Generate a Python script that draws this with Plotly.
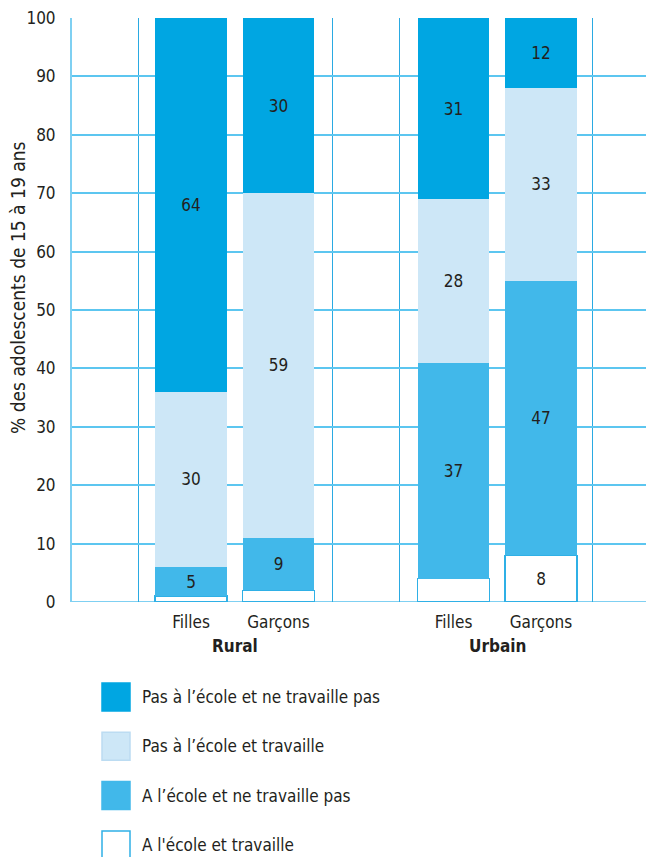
import plotly.graph_objects as go

# Categories
groups = ["Rural", "Rural", "Urbain", "Urbain"]
sexes = ["Filles", "Garçons", "Filles", "Garçons"]

# Series (% of adolescents aged 15-19), stacked from bottom to top
series_names = [
    "A l'école et travaille",
    "A l’école et ne travaille pas",
    "Pas à l’école et travaille",
    "Pas à l’école et ne travaille pas",
]
ecole_travaille = [1, 2, 4, 8]
ecole_ne_travaille_pas = [5, 9, 37, 47]
pas_ecole_travaille = [30, 59, 28, 33]
pas_ecole_ne_travaille_pas = [64, 30, 31, 12]

y_ticks = [0, 10, 20, 30, 40, 50, 60, 70, 80, 90, 100]

FONT = "Liberation Sans Narrow, Arial Narrow, DejaVu Sans Condensed, sans-serif"
TEXT = "#231f20"
colors = ["#ffffff", "#41b8ea", "#cde7f7", "#00a6e2"]
edge = "#2fb0e6"

# slot positions: two bars per group with an empty slot between groups
x_pos = [1, 2, 4, 5]
bar_width = 0.82

values = [ecole_travaille, ecole_ne_travaille_pas, pas_ecole_travaille, pas_ecole_ne_travaille_pas]

fig = go.Figure()
for name, vals, col in zip(series_names, values, colors):
    fig.add_trace(go.Bar(
        x=x_pos,
        y=vals,
        name=name,
        width=bar_width,
        marker=dict(color=col,
                    line=dict(color=edge if col == "#ffffff" else col,
                              width=1.5 if col == "#ffffff" else 0)),
        text=[str(v) if v >= 5 else "" for v in vals],
        textposition="inside",
        insidetextanchor="middle",
        textangle=0,
        constraintext="none",
        textfont=dict(family=FONT, size=17, color=TEXT),
        showlegend=False,
        hoverinfo="skip",
    ))

fig.update_layout(
    barmode="stack",
    width=646,
    height=857,
    margin=dict(l=72, r=0, t=18, b=255),
    paper_bgcolor="white",
    plot_bgcolor="white",
    font=dict(family=FONT, size=17, color=TEXT),
    xaxis=dict(
        range=[-0.36, 6.2],
        tickvals=x_pos,
        ticktext=sexes,
        ticks="",
        ticklabelstandoff=8,
        showgrid=False,
        zeroline=False,
        showline=False,
        tickfont=dict(family=FONT, size=17, color=TEXT),
        minor=dict(tickvals=[0.4, 2.62, 3.38, 5.59], showgrid=True,
                   gridcolor="#2aaae2", gridwidth=1.3, ticks=""),
    ),
    yaxis=dict(
        range=[0, 100],
        tickvals=y_ticks,
        showgrid=True,
        gridcolor="#5cc6f0",
        gridwidth=2,
        zeroline=False,
        showline=True,
        linecolor="#7fd0f2",
        linewidth=2,
        ticks="",
        ticklabelstandoff=11,
        tickfont=dict(family=FONT, size=17, color=TEXT),
    ),
)

# axis title, placed as a rotated annotation
fig.add_annotation(xref="paper", yref="paper", x=(18 - 72) / 574,
                   y=1 - (288 - 18) / 584, xanchor="center", yanchor="middle",
                   textangle=-90, text="% des adolescents de 15 à 19 ans",
                   showarrow=False, font=dict(family=FONT, size=19, color=TEXT))

# baseline along the x axis
fig.add_shape(type="line", xref="paper", yref="y", x0=0, x1=1, y0=0, y1=0,
              line=dict(color="#7fd0f2", width=2), layer="below")

# group labels below the category labels
for g in dict.fromkeys(groups):
    xs = [x for x, gg in zip(x_pos, groups) if gg == g]
    fig.add_annotation(x=sum(xs) / len(xs), y=0, xref="x", yref="y",
                       yshift=-44, text=f"<b>{g}</b>", showarrow=False,
                       font=dict(family=FONT, size=17, color=TEXT))

# legend drawn as swatches with text, top series first
legend_top = 683
row_gap = 49.3
sw = 28
for i, (name, col) in enumerate(zip(series_names[::-1], colors[::-1])):
    y0 = legend_top + i * row_gap
    fig.add_shape(type="rect", xref="paper", yref="paper",
                  x0=(102 - 72) / 574, x1=(102 + sw - 72) / 574,
                  y0=1 - (y0 + sw - 18) / 584, y1=1 - (y0 - 18) / 584,
                  fillcolor=col,
                  line=dict(color=edge if col == "#ffffff" else
                            ("#bcdcf2" if col == "#cde7f7" else col), width=1.5))
    fig.add_annotation(xref="paper", yref="paper",
                       x=(140 - 72) / 574, y=1 - (y0 + sw / 2 - 18) / 584,
                       xanchor="left", yanchor="middle", text=name,
                       showarrow=False,
                       font=dict(family=FONT, size=17, color=TEXT))

fig.write_html("out.html")
